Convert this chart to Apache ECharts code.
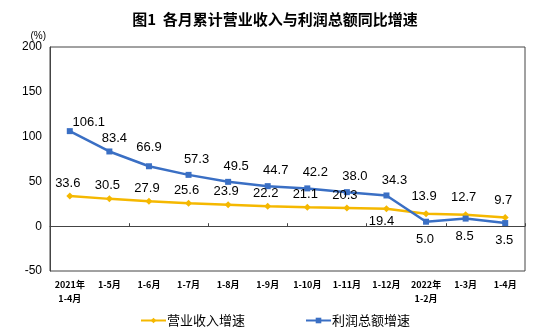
<!DOCTYPE html>
<html><head><meta charset="utf-8">
<script src="https://cdn.jsdelivr.net/npm/echarts@6/dist/echarts.min.js"></script>
<style>html,body{margin:0;padding:0;background:#fff}#c{width:550px;height:335px}</style>
</head><body><div id="c"></div>
<script>
const categories = ['2021年\n1-4月','1-5月','1-6月','1-7月','1-8月','1-9月','1-10月','1-11月','1-12月','2022年\n1-2月','1-3月','1-4月'];
const revenue = [33.6,30.5,27.9,25.6,23.9,22.2,21.1,20.3,19.4,13.9,12.7,9.7];
const profit = [106.1,83.4,66.9,57.3,49.5,44.7,42.2,38.0,34.3,5.0,8.5,3.5];
const yTicks = [-50,0,50,100,150,200];
const seriesNames = ['营业收入增速','利润总额增速'];

const font = 'Arial, "Liberation Sans", sans-serif';
const cjk = '"Noto Sans CJK SC", sans-serif';

const revData = revenue.map((v,i)=>{
  const d={value:v};
  if(i===8) d.label={position:'bottom',distance:3,offset:[-5,0]};
  if(i>=9) d.label={distance:7};
  return d;
});
const profData = profit.map((v,i)=>{
  const d={value:v};
  if(i===0) d.label={offset:[19,7]};
  if(i===1) d.label={offset:[5,2]};
  if(i===2) d.label={offset:[0,-3]};
  if(i>=9) d.label={position:'bottom',distance:8,offset:[-1,0]};
  return d;
});

const chart = echarts.init(document.getElementById('c'));
chart.setOption({
  animation:false,
  title:{text:'图1  各月累计营业收入与利润总额同比增速',left:'center',top:7,
    textStyle:{fontSize:15,fontWeight:'bold',color:'#000',fontFamily:cjk}},
  grid:{left:50,right:25,top:47,bottom:64,show:true,borderColor:'#444',borderWidth:1},
  legend:{top:309,left:'center',itemGap:60,itemWidth:25,itemHeight:7,
    textStyle:{fontSize:13,color:'#000',fontFamily:cjk,padding:[0,0,0,-4]},
    data:seriesNames},
  xAxis:[{type:'category',data:categories,boundaryGap:true,position:'bottom',
    axisLine:{show:false,onZero:false},
    axisTick:{show:false},
    axisLabel:{fontSize:9,fontWeight:'bold',color:'#000',interval:0,lineHeight:14,fontFamily:cjk,margin:7}},
   {type:'category',data:categories,boundaryGap:true,position:'bottom',
    axisLine:{show:true,onZero:true,lineStyle:{color:'#444'}},
    axisTick:{show:true,inside:true,length:3,lineStyle:{color:'#444'}},
    axisLabel:{show:false}}],
  yAxis:{type:'value',min:yTicks[0],max:yTicks[yTicks.length-1],interval:50,name:'(%)',nameGap:4,
    nameTextStyle:{fontSize:10,color:'#000',align:'right',padding:[0,4,-6,0]},
    axisLine:{show:true,lineStyle:{color:'#444'}},
    axisTick:{show:false},splitLine:{show:false},
    axisLabel:{fontSize:12,color:'#000',fontFamily:font,margin:8}},
  series:[
    {name:seriesNames[0],type:'line',data:revData,symbol:'diamond',symbolSize:7,
      itemStyle:{color:'#F5B800'},lineStyle:{width:2.5,color:'#F5B800'},
      label:{show:true,position:'top',fontSize:13,color:'#000',fontFamily:font,distance:3,offset:[-2,0],
        formatter:p=>p.value.toFixed(1)}},
    {name:seriesNames[1],type:'line',data:profData,symbol:'rect',symbolSize:6,
      itemStyle:{color:'#3A6FC4'},lineStyle:{width:2.5,color:'#3A6FC4'},
      label:{show:true,position:'top',fontSize:13,color:'#000',fontFamily:font,distance:6,offset:[8,0],
        formatter:p=>p.value.toFixed(1)}}
  ]
});
</script></body></html>
